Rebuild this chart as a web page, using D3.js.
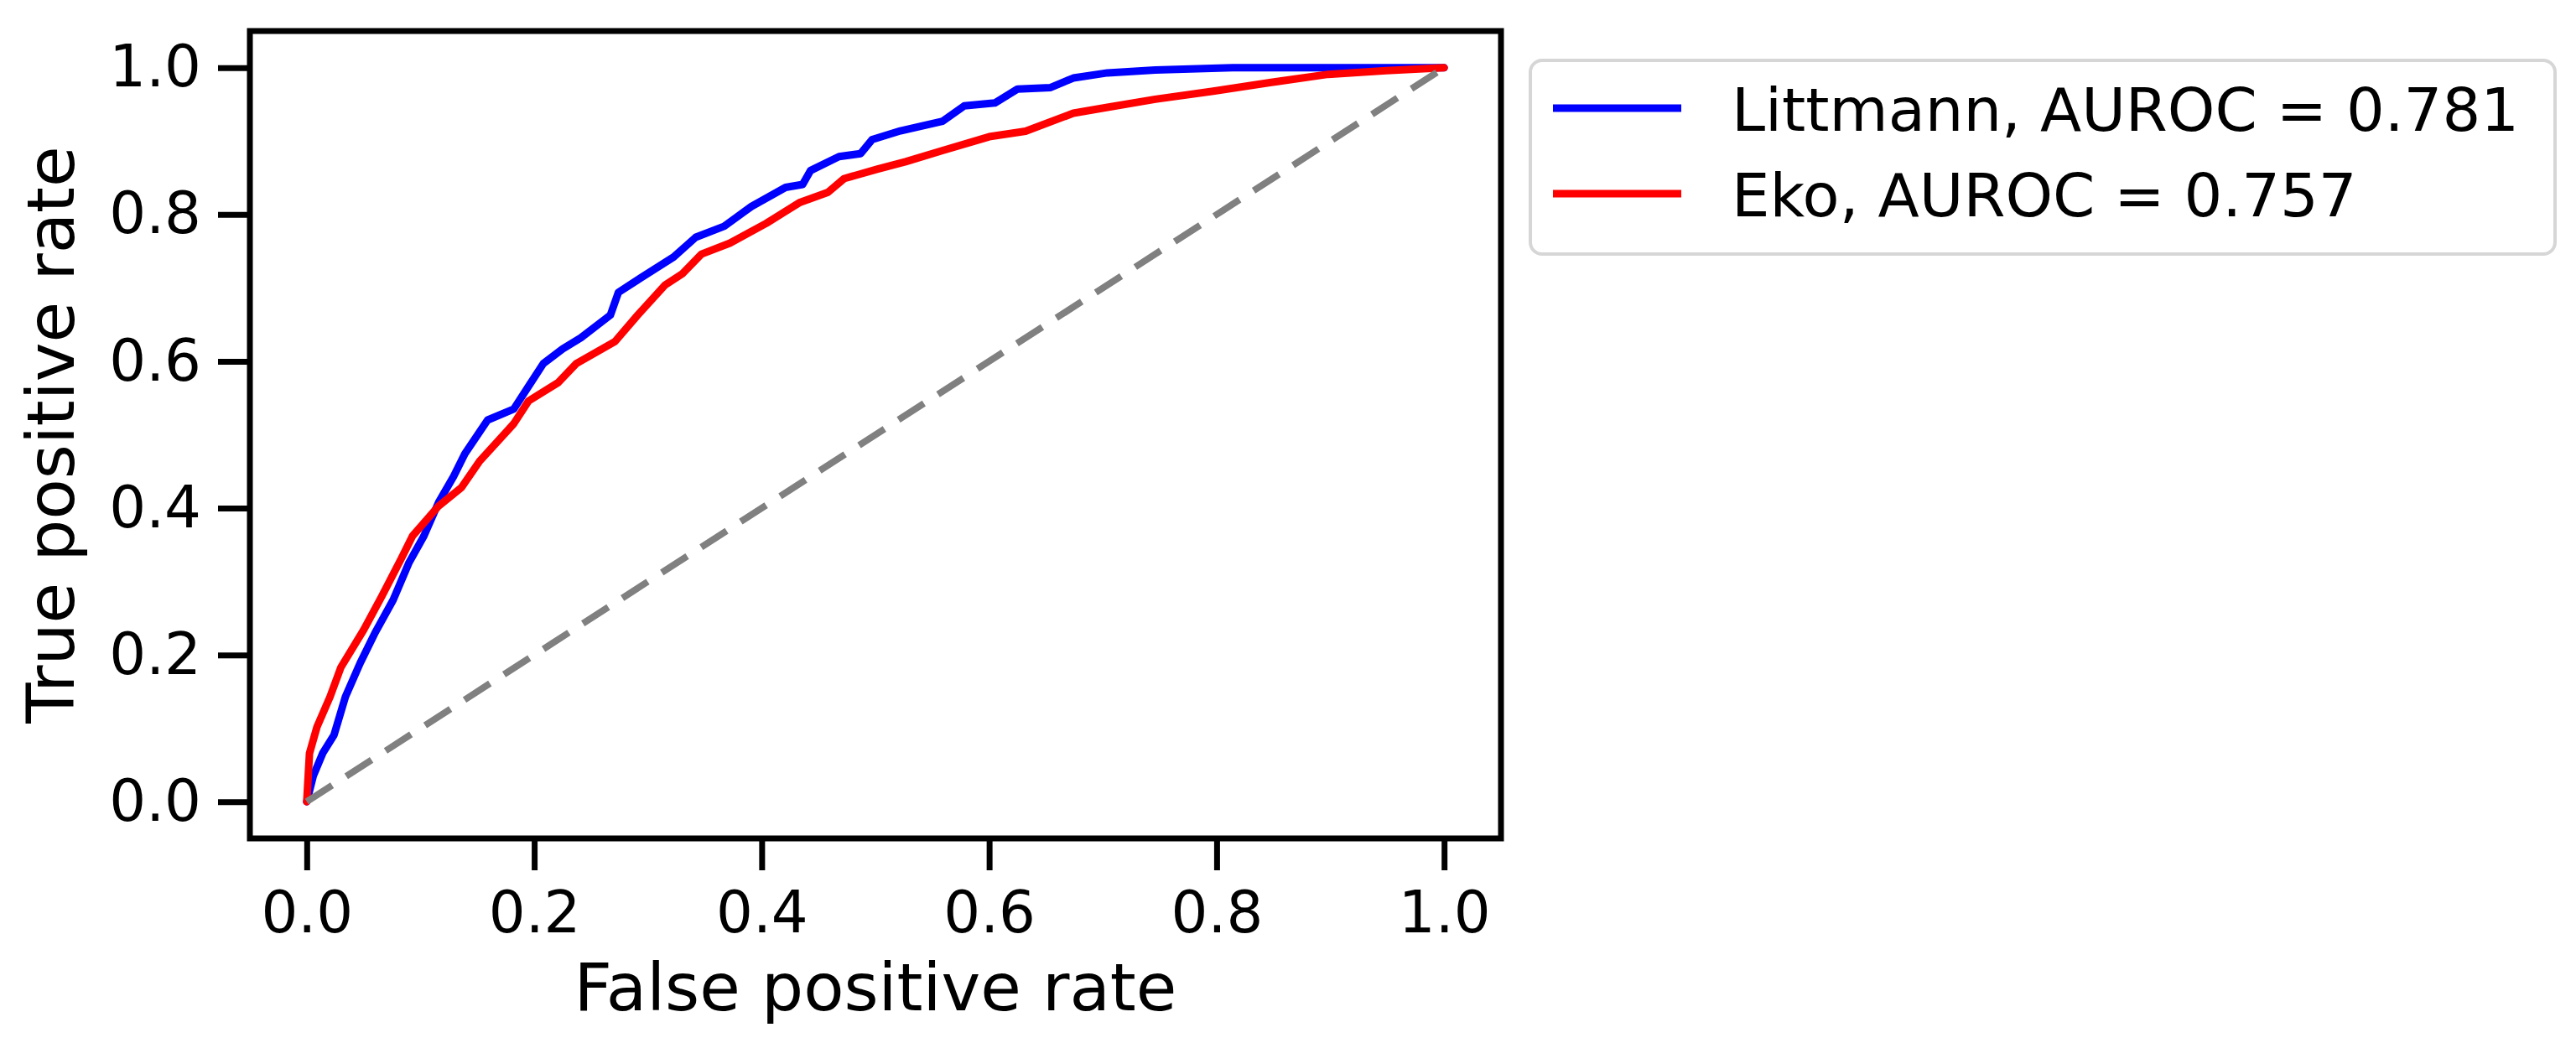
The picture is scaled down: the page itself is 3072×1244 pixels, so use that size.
<!DOCTYPE html>
<html>
<head>
<meta charset="utf-8">
<script src="https://cdn.jsdelivr.net/npm/d3@7"></script>
<style>
  html, body { margin: 0; padding: 0; background: #ffffff; }
  svg { display: block; }
  text { font-family: "DejaVu Sans", sans-serif; fill: #000; }
</style>
</head>
<body>
<svg id="chart" width="3072" height="1244"></svg>
<script>
// ---- Data ----
const tickValues = [0, 0.2, 0.4, 0.6, 0.8, 1.0];
const tickLabels = ["0.0", "0.2", "0.4", "0.6", "0.8", "1.0"];
const seriesNames = ["Littmann, AUROC = 0.781", "Eko, AUROC = 0.757"];
const seriesColors = ["#0000ff", "#ff0000"];

const littmannFPR = [0, 0.0057, 0.014, 0.024, 0.034, 0.047, 0.060, 0.076, 0.090, 0.103, 0.116, 0.129, 0.139, 0.159, 0.182, 0.195, 0.208, 0.225, 0.241, 0.267, 0.274, 0.294, 0.3225, 0.342, 0.367, 0.391, 0.421, 0.436, 0.443, 0.468, 0.487, 0.497, 0.522, 0.559, 0.578, 0.605, 0.625, 0.654, 0.674, 0.704, 0.746, 0.814, 1.0];
const littmannTPR = [0, 0.035, 0.066, 0.091, 0.143, 0.189, 0.230, 0.275, 0.326, 0.362, 0.408, 0.443, 0.474, 0.520, 0.535, 0.566, 0.597, 0.617, 0.632, 0.663, 0.694, 0.714, 0.742, 0.769, 0.784, 0.811, 0.837, 0.841, 0.860, 0.879, 0.883, 0.902, 0.914, 0.927, 0.948, 0.952, 0.971, 0.973, 0.986, 0.993, 0.997, 1.0, 1.0];

const ekoFPR = [0, 0.0024, 0.009, 0.0205, 0.030, 0.050, 0.066, 0.083, 0.093, 0.116, 0.136, 0.152, 0.182, 0.195, 0.221, 0.237, 0.271, 0.291, 0.315, 0.330, 0.347, 0.372, 0.404, 0.433, 0.458, 0.4725, 0.502, 0.5265, 0.5585, 0.600, 0.632, 0.674, 0.704, 0.746, 0.797, 0.848, 0.898, 0.949, 1.0];
const ekoTPR = [0, 0.066, 0.102, 0.143, 0.183, 0.234, 0.280, 0.331, 0.362, 0.403, 0.428, 0.464, 0.515, 0.546, 0.571, 0.597, 0.627, 0.663, 0.704, 0.719, 0.746, 0.761, 0.788, 0.816, 0.830, 0.849, 0.862, 0.872, 0.887, 0.906, 0.9135, 0.938, 0.946, 0.957, 0.968, 0.980, 0.991, 0.996, 1.0];

const chanceFPR = [0, 1];
const chanceTPR = [0, 1];

// ---- Layout ----
const svg = d3.select("#chart");
const plot = { left: 298, right: 1790, top: 37, bottom: 1000 };
const x = d3.scaleLinear().domain([-0.05, 1.05]).range([plot.left, plot.right]);
const y = d3.scaleLinear().domain([-0.05, 1.05]).range([plot.bottom, plot.top]);

const tickFont = 69;
const labelFont = 79;
const legendFont = 72;

const zip = (a, b) => a.map((v, i) => [v, b[i]]);
const line = d3.line().x(d => x(d[0])).y(d => y(d[1]));

const g = svg.append("g");

// Curves
const series = [zip(littmannFPR, littmannTPR), zip(ekoFPR, ekoTPR)];
series.forEach((s, i) => {
  g.append("path")
    .datum(s)
    .attr("d", line)
    .attr("fill", "none")
    .attr("stroke", seriesColors[i])
    .attr("stroke-width", 9)
    .attr("stroke-linejoin", "round")
    .attr("stroke-linecap", "round");
});

// Chance line
g.append("path")
  .datum(zip(chanceFPR, chanceTPR))
  .attr("d", line)
  .attr("fill", "none")
  .attr("stroke", "#808080")
  .attr("stroke-width", 8)
  .attr("stroke-dasharray", "36,20");

// Axes
const xAxis = d3.axisBottom(x).tickValues(tickValues)
  .tickFormat((d, i) => tickLabels[i]).tickSize(38).tickPadding(25).tickSizeOuter(0);
const yAxis = d3.axisLeft(y).tickValues(tickValues)
  .tickFormat((d, i) => tickLabels[i]).tickSize(38).tickPadding(20).tickSizeOuter(0);

const gx = svg.append("g").attr("transform", `translate(0,${plot.bottom})`).call(xAxis);
const gy = svg.append("g").attr("transform", `translate(${plot.left},0)`).call(yAxis);
[gx, gy].forEach(ax => {
  ax.select(".domain").remove();
  ax.selectAll(".tick line").attr("stroke", "#000").attr("stroke-width", 7);
  ax.selectAll(".tick text")
    .attr("font-family", "DejaVu Sans, sans-serif")
    .attr("font-size", tickFont)
    .attr("fill", "#000");
});

// Frame (spines)
svg.append("rect")
  .attr("x", plot.left).attr("y", plot.top)
  .attr("width", plot.right - plot.left).attr("height", plot.bottom - plot.top)
  .attr("fill", "none").attr("stroke", "#000").attr("stroke-width", 7);

// Axis labels
svg.append("text")
  .attr("x", (plot.left + plot.right) / 2).attr("y", 1205)
  .attr("text-anchor", "middle")
  .attr("font-size", labelFont)
  .text("False positive rate");

svg.append("text")
  .attr("transform", `translate(88,${(plot.top + plot.bottom) / 2}) rotate(-90)`)
  .attr("text-anchor", "middle")
  .attr("font-size", labelFont)
  .text("True positive rate");

// Legend
const leg = svg.append("g");
leg.append("rect")
  .attr("x", 1825).attr("y", 72).attr("width", 1222).attr("height", 231)
  .attr("rx", 14).attr("ry", 14)
  .attr("fill", "#ffffff").attr("fill-opacity", 0.8)
  .attr("stroke", "#d6d6d6").attr("stroke-width", 4);

const rowY = [129, 231];
seriesNames.forEach((name, i) => {
  leg.append("line")
    .attr("x1", 1852).attr("x2", 2005)
    .attr("y1", rowY[i]).attr("y2", rowY[i])
    .attr("stroke", seriesColors[i]).attr("stroke-width", 9);
  leg.append("text")
    .attr("x", 2065).attr("y", rowY[i] + 27)
    .attr("font-size", legendFont)
    .text(name);
});
</script>
</body>
</html>
